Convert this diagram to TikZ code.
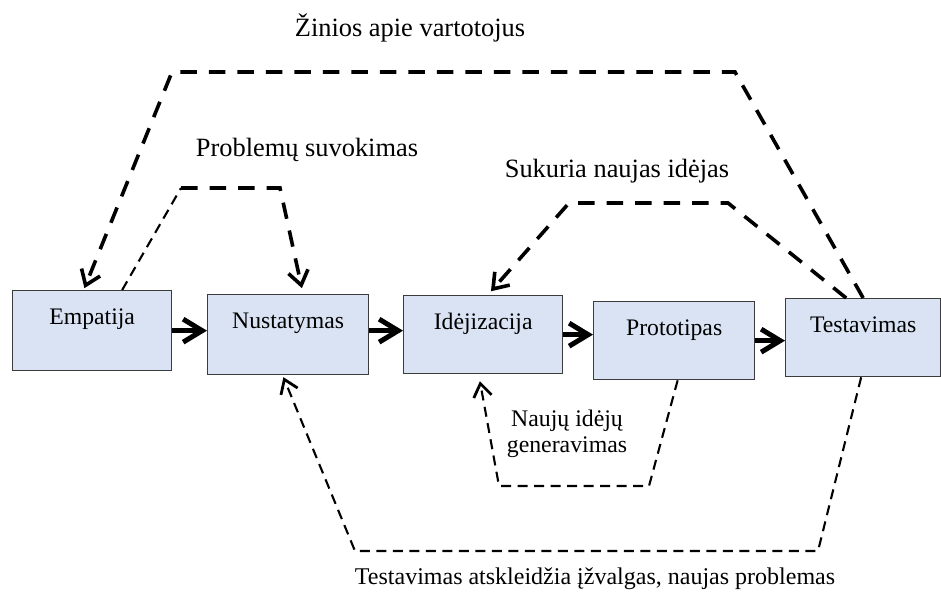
\documentclass[tikz,border=0pt]{standalone}
\usepackage{fontspec}
\setmainfont{Liberation Serif}
\usetikzlibrary{arrows.meta}
\definecolor{boxfill}{HTML}{DAE3F3}
\definecolor{boxline}{HTML}{3C3C3C}

\begin{document}
\begin{tikzpicture}[x=1pt,y=-1pt,
  stage/.style 2 args={draw=boxline, line width=1.3pt, fill=boxfill,
    anchor=north west, inner sep=0pt, minimum width=#1,
    text height=34pt, text depth=#2,
    font=\fontsize{23.7}{28}\selectfont},
  biglabel/.style={anchor=base, inner sep=0pt, font=\fontsize{26.4}{30}\selectfont},
  smalllabel/.style={anchor=base, inner sep=0pt, font=\fontsize{24}{27}\selectfont},
  flow/.style={line width=5pt, -{Straight Barb[length=19pt, width=23pt, line width=5pt]}},
  thickdash/.style={line width=3.6pt, dash pattern=on 16.5pt off 12pt},
  thindash/.style={line width=2.1pt, dash pattern=on 10pt off 6.5pt},
  bigtip/.style={-{Straight Barb[length=14pt, width=20pt, line width=3.6pt]}},
  smalltip/.style={-{Straight Barb[length=13pt, width=18pt, line width=2.8pt]}}
]
\useasboundingbox (0,0) rectangle (941,592);

% process stages
\node[stage={159pt}{46pt}] (emp) at (12,290)  {Empatija};
\node[stage={161pt}{46pt}] (nus) at (207,294) {Nustatymas};
\node[stage={159pt}{44pt}] (ide) at (403,295) {Idėjizacija};
\node[stage={161pt}{44pt}] (pro) at (593,301) {Prototipas};
\node[stage={155pt}{44pt}] (tes) at (785,298) {Testavimas};

% forward flow
\draw[flow] (emp.east) -- (emp.east -| nus.west);
\draw[flow] ([yshift=4pt]nus.east) -- ([yshift=4pt]nus.east -| ide.west);
\draw[flow] (ide.east) -- (ide.east -| pro.west);
\draw[flow] (pro.east) -- (pro.east -| tes.west);

% bend points of the feedback loops
\coordinate (k1) at (735,72);
\coordinate (k2) at (172,72);
\coordinate (s1) at (728,203);
\coordinate (s2) at (569,203);
\coordinate (p1) at (181,188);
\coordinate (p2) at (280,188);
\coordinate (g1) at (649,486);
\coordinate (g2) at (499,486);
\coordinate (b1) at (818,551);
\coordinate (b2) at (355,551);

% feedback loops
\draw[thickdash, bigtip, shorten >=2pt] (tes.north) -- (k1) -- (k2) -- ([xshift=-8.5pt]emp.north);
\draw[thickdash, bigtip, shorten >=5pt] ([xshift=-17pt]tes.north) -- (s1) -- (s2) -- ([xshift=4.5pt]ide.north);
\draw[thindash] ([xshift=30pt]emp.north) -- (p1);
\draw[thickdash, bigtip, shorten >=6pt] (p1) -- (p2) -- ([xshift=15pt]nus.north);
\draw[thindash, smalltip, shorten >=7pt] ([xshift=3.5pt]pro.south) -- (g1) -- (g2) -- ([xshift=-4.5pt]ide.south);
\draw[thindash, smalltip, shorten >=2pt] ([xshift=-2pt]tes.south) -- (b1) -- (b2) -- ([xshift=-5.5pt]nus.south);

% loop labels
\node[biglabel] (lk) at (410,36) {Žinios apie vartotojus};
\node[biglabel] (lp) at (307,156) {Problemų suvokimas};
\node[biglabel] (ls) at (617,177) {Sukuria naujas idėjas};
\node[smalllabel, align=center, font=\fontsize{23.8}{26}\selectfont] (lg) at (567,452) {Naujų idėjų\\generavimas};
\node[smalllabel] (lb) at (595,584) {Testavimas atskleidžia įžvalgas, naujas problemas};
\end{tikzpicture}
\end{document}
